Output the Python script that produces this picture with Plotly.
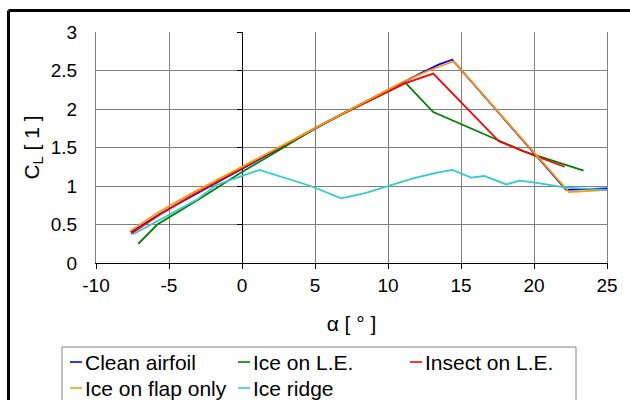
import plotly.graph_objects as go

# ---- data ----
clean_a = [-7.6, -5.6, -3.5, -1.4, 0.6, 2.7, 4.8, 6.9, 8.9, 11.0, 12.2, 13.5, 14.4, 22.2, 25.0]
clean_cl = [0.40, 0.64, 0.86, 1.08, 1.29, 1.50, 1.72, 1.94, 2.14, 2.35, 2.46, 2.58, 2.64, 0.95, 0.97]

icele_a = [-7.1, -5.8, -3.0, -0.2, 2.5, 5.2, 7.8, 9.7, 11.2, 13.1, 19.3, 23.4]
icele_cl = [0.25, 0.50, 0.82, 1.16, 1.46, 1.77, 2.02, 2.20, 2.34, 1.96, 1.45, 1.20]

insect_a = [-7.6, -5.7, -3.6, -1.5, 0.5, 2.6, 4.7, 6.8, 8.9, 11.1, 13.1, 17.6, 20.1, 22.1]
insect_cl = [0.38, 0.62, 0.86, 1.08, 1.29, 1.50, 1.72, 1.93, 2.13, 2.33, 2.46, 1.58, 1.39, 1.25]

flap_a = [-7.7, -5.8, -3.6, -1.5, 0.5, 2.6, 4.7, 6.8, 8.9, 11.0, 12.8, 14.5, 22.4, 25.0]
flap_cl = [0.41, 0.65, 0.89, 1.10, 1.30, 1.51, 1.73, 1.94, 2.15, 2.35, 2.50, 2.62, 0.92, 0.95]

ridge_a = [-7.5, -3.1, -1.8, 1.2, 4.7, 6.8, 8.5, 11.7, 13.3, 14.4, 15.7, 16.6, 18.1, 19.0, 20.2, 22.2, 25.0]
ridge_cl = [0.37, 0.82, 1.01, 1.21, 1.00, 0.84, 0.91, 1.10, 1.17, 1.21, 1.11, 1.13, 1.02, 1.07, 1.04, 0.98, 0.95]

series_names = ["Clean airfoil", "Ice on L.E.", "Insect on L.E.", "Ice on flap only", "Ice ridge"]
series_colors = ["#0000FF", "#008000", "#FF0000", "#FF9900", "#33CCCC"]
series_data = [(clean_a, clean_cl), (icele_a, icele_cl), (insect_a, insect_cl),
               (flap_a, flap_cl), (ridge_a, ridge_cl)]

x_ticks = [-10, -5, 0, 5, 10, 15, 20, 25]
x_tick_labels = ["-10", "-5", "0", "5", "10", "15", "20", "25"]
y_ticks = [0, 0.5, 1, 1.5, 2, 2.5, 3]
y_tick_labels = ["0", "0.5", "1", "1.5", "2", "2.5", "3"]

W, H = 630, 400
L, R, T, B = 96, 23, 32, 137
FONT = "Liberation Sans, Arial, sans-serif"

def px(x):
    return (x - L) / (W - L - R)

def py(y):
    return (H - B - y) / (H - T - B)

fig = go.Figure()
for (xa, ya), name, col in zip(series_data, series_names, series_colors):
    fig.add_trace(go.Scatter(x=xa, y=ya, mode="lines", name=name,
                             line=dict(color=col, width=1.8), showlegend=False))

# invisible trace for the secondary (crossing) y axis
fig.add_trace(go.Scatter(x=[0], y=[0], yaxis="y2", mode="markers",
                         marker=dict(opacity=0), showlegend=False, hoverinfo="skip"))

fig.update_layout(
    width=W, height=H,
    margin=dict(l=L, r=R, t=T, b=B),
    paper_bgcolor="white", plot_bgcolor="white",
    font=dict(family=FONT, color="black", size=19),
    showlegend=False,
    xaxis=dict(range=[-10, 25], tickvals=x_ticks, ticktext=x_tick_labels,
               showgrid=True, gridcolor="#808080",
               gridwidth=1, zeroline=True, zerolinecolor="black", zerolinewidth=1,
               showline=True, linecolor="black", linewidth=1, ticks="outside",
               ticklen=5, tickcolor="black", tickfont=dict(size=19),
               ticklabelstandoff=0,
               title=dict(text="α [ ° ]", font=dict(size=21), standoff=21)),
    yaxis=dict(range=[0, 3], tickvals=y_ticks, ticktext=y_tick_labels,
               showgrid=True, gridcolor="#808080",
               gridwidth=1, zeroline=False, showline=True, linecolor="#808080",
               mirror=True, ticks="", tickfont=dict(size=19), ticklabelstandoff=14,
               title=dict(text="C<sub>L</sub> [ 1 ]", font=dict(size=21), standoff=5)),
    yaxis2=dict(range=[0, 3], tickvals=y_ticks, overlaying="y", anchor="free",
                position=10 / 35, showgrid=False, zeroline=False, showline=False,
                ticks="outside", ticklen=5, tickcolor="black", showticklabels=False),
)

# outer chart frame (left and top edges; right/bottom fall outside the view)
frame = dict(color="black", width=3)
fig.add_shape(type="line", xref="paper", yref="paper", x0=px(8.5), x1=px(640),
              y0=py(10.5), y1=py(10.5), line=frame)
fig.add_shape(type="line", xref="paper", yref="paper", x0=px(8.5), x1=px(8.5),
              y0=py(10.5), y1=py(410), line=frame)

# legend box
box = dict(color="#808080", width=1)
fig.add_shape(type="line", xref="paper", yref="paper", x0=px(62), x1=px(576),
              y0=py(347), y1=py(347), line=box)
fig.add_shape(type="line", xref="paper", yref="paper", x0=px(62), x1=px(62),
              y0=py(347), y1=py(410), line=box)
fig.add_shape(type="line", xref="paper", yref="paper", x0=px(576), x1=px(576),
              y0=py(347), y1=py(410), line=box)

legend_pos = [(70, 362), (238, 362), (410, 362), (70, 388), (238, 388)]
for (lx, ly), name, col in zip(legend_pos, series_names, series_colors):
    fig.add_shape(type="line", xref="paper", yref="paper", x0=px(lx), x1=px(lx + 12),
                  y0=py(ly), y1=py(ly), line=dict(color=col, width=1.6))
    fig.add_annotation(x=px(lx + 13), y=py(ly), xref="paper", yref="paper",
                       text=name, showarrow=False, xanchor="left", yanchor="middle",
                       font=dict(size=21, family=FONT, color="black"))

fig.write_html("out.html")
